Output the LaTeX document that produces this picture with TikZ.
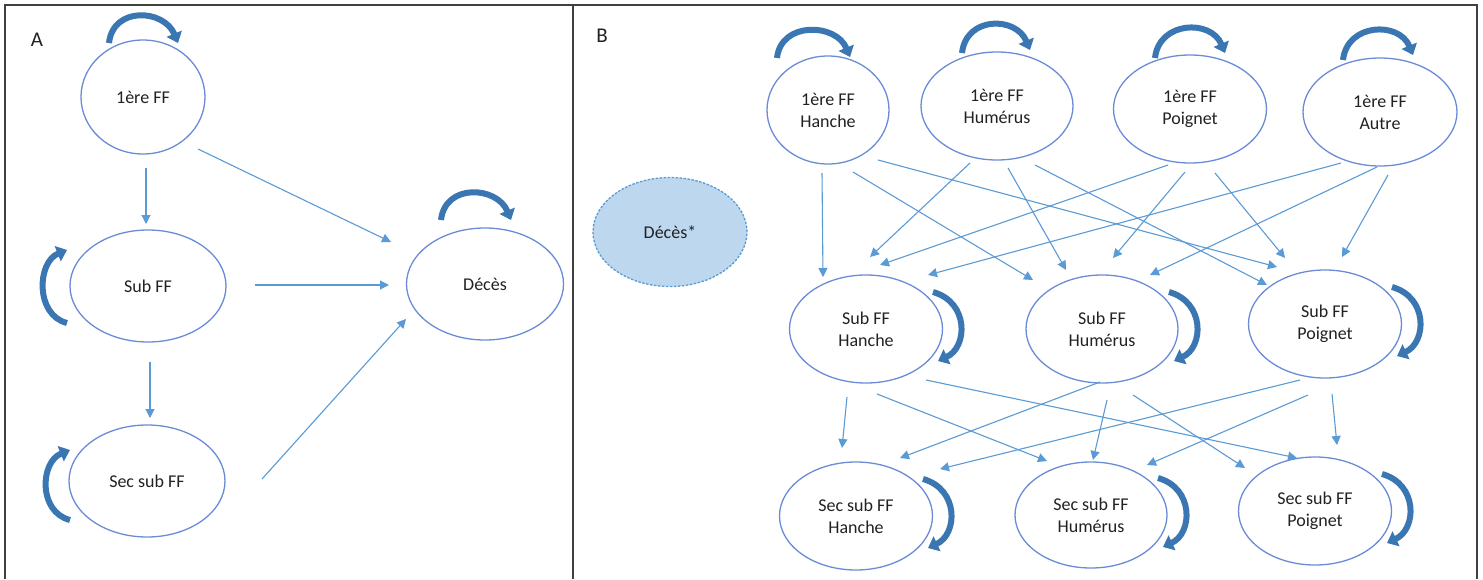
\documentclass[tikz,border=0pt]{standalone}
\usepackage{fontspec}
\setmainfont{Carlito}
\usetikzlibrary{shapes.geometric,arrows.meta,calc}
\definecolor{edgeblue}{HTML}{5B9BD5}
\definecolor{ringblue}{HTML}{6A8CD6}
\definecolor{loopblue}{HTML}{3A76B2}
\definecolor{deathfill}{HTML}{BDD7EE}
\definecolor{framegray}{HTML}{404040}
\definecolor{labelgray}{HTML}{222222}

% top self-transition: #1 node, (#2) left end offset, (#3) arrow tip offset
\newcommand{\loopabove}[3]{%
  \draw[selfloop] ($(#1)+(#2)$) .. controls ($(#1)+(#2)+(4,-37)$) and ($(#1)+(#3)+(-14,-34)$) .. ($(#1)+(#3)$);}
% right-hand self-transition
\newcommand{\loopright}[1]{%
  \draw[selfloop] ($(#1)+(67,-37)$) .. controls ($(#1)+(103,-27)$) and ($(#1)+(102,18)$) .. ($(#1)+(72,32)$);}
% left-hand self-transition: #1 node, (#2) lower end offset, (#3) arrow tip offset
\newcommand{\loopleft}[3]{%
  \draw[selfloop] ($(#1)+(#2)$) .. controls ($(#1)+(#2)+(-32,-8)$) and ($(#1)+(#3)+(-30,12)$) .. ($(#1)+(#3)$);}

\begin{document}
\begin{tikzpicture}[x=1pt,y=-1pt,
  state/.style={ellipse, draw=ringblue, line width=1.3pt, inner sep=0pt,
    align=center, text=labelgray, font=\fontsize{18}{22}\selectfont},
  trans/.style={draw=edgeblue, line width=1.1pt, -{Triangle[width=9pt,length=9pt]}},
  selfloop/.style={draw=loopblue, line width=6pt, -{Triangle[width=16pt,length=10pt]}},
  panel/.style={text=labelgray, font=\fontsize{21}{25}\selectfont}]
\useasboundingbox (0,0) rectangle (1483,579);
\fill[white] (0,0) rectangle (1483,579);

% frame of the two panels
\draw[framegray, line width=1.6pt] (5,579) -- (5,5) -- (1477,5) -- (1477,579);
\draw[framegray, line width=1.6pt] (573,5) -- (573,579);

% ---------------- panel A ----------------
\node[panel] (labA) at (37,40) {A};
\node[state, minimum width=124pt, minimum height=114pt] (a1) at (143,97) {1ère FF};
\node[state, minimum width=156pt, minimum height=112pt] (a2) at (148,286) {Sub FF};
\node[state, minimum width=156pt, minimum height=112pt] (a3) at (147,481) {Sec sub FF};
\node[state, minimum width=157pt, minimum height=112pt] (ad) at (485,284) {Décès};

\draw[trans] ($(a1)+(3,71)$) -- ($(a2)+(-2,-62)$);
\draw[trans] ($(a1)+(55,52)$) -- ($(ad)+(-94,-42)$);
\draw[trans] ($(a2)+(107,-1)$) -- ($(ad)+(-96,1)$);
\draw[trans] ($(a2)+(2,76)$) -- ($(a3)+(3,-63)$);
\draw[trans] ($(a3)+(115,-2)$) -- ($(ad)+(-79,35)$);

\loopabove{a1}{-34,-54}{35,-54}
\loopabove{ad}{-44,-64}{26,-64}
\loopleft{a2}{-81,37}{-81,-36}
\loopleft{a3}{-77,39}{-77,-31}

% ---------------- panel B ----------------
\node[panel] (labB) at (602,36) {B};
\node[state, minimum width=154pt, minimum height=109pt, fill=deathfill, draw=edgeblue,
  dash pattern=on 2.5pt off 1.5pt] (dd) at (670,232) {Décès*};

\node[state, minimum width=122pt, minimum height=108pt] (h1) at (828,110) {1ère FF\\Hanche};
\node[state, minimum width=152pt, minimum height=108pt] (u1) at (997,106) {1ère FF\\Humérus};
\node[state, minimum width=153pt, minimum height=108pt] (p1) at (1190,109) {1ère FF\\Poignet};
\node[state, minimum width=154pt, minimum height=108pt] (o1) at (1380,112) {1ère FF\\Autre};

\node[state, minimum width=153pt, minimum height=108pt] (h2) at (866,329) {Sub FF\\Hanche};
\node[state, minimum width=152pt, minimum height=108pt] (u2) at (1102,329) {Sub FF\\Humérus};
\node[state, minimum width=153pt, minimum height=108pt] (p2) at (1325,324) {Sub FF\\Poignet};

\node[state, minimum width=153pt, minimum height=108pt] (h3) at (856,516) {Sec sub FF\\Hanche};
\node[state, minimum width=152pt, minimum height=106pt] (u3) at (1091,515) {Sec sub FF\\Humérus};
\node[state, minimum width=153pt, minimum height=108pt] (p3) at (1315,511) {Sec sub FF\\Poignet};

% first fracture -> subsequent fracture
\draw[trans] ($(h1)+(-6,63)$) -- ($(h2)+(-43,-52)$);
\draw[trans] ($(h1)+(25,62)$) -- ($(u2)+(-69,-49)$);
\draw[trans] ($(h1)+(50,50)$) -- ($(p2)+(-48,-57)$);
\draw[trans] ($(u1)+(-27,57)$) -- ($(h2)+(4,-72)$);
\draw[trans] ($(u1)+(11,62)$) -- ($(u2)+(-36,-59)$);
\draw[trans] ($(u1)+(38,59)$) -- ($(p2)+(-58,-39)$);
\draw[trans] ($(p1)+(-22,56)$) -- ($(h2)+(14,-64)$);
\draw[trans] ($(p1)+(-5,63)$) -- ($(u2)+(11,-71)$);
\draw[trans] ($(p1)+(25,64)$) -- ($(p2)+(-40,-66)$);
\draw[trans] ($(o1)+(-39,51)$) -- ($(h2)+(62,-54)$);
\draw[trans] ($(o1)+(-3,55)$) -- ($(u2)+(48,-54)$);
\draw[trans] ($(o1)+(8,63)$) -- ($(p2)+(17,-67)$);

% subsequent fracture -> second subsequent fracture
\draw[trans] ($(h2)+(-19,68)$) -- ($(h3)+(-14,-68)$);
\draw[trans] ($(h2)+(11,65)$) -- ($(u3)+(-44,-54)$);
\draw[trans] ($(h2)+(60,51)$) -- ($(p3)+(-18,-53)$);
\draw[trans] ($(u2)+(-2,53)$) -- ($(h3)+(44,-58)$);
\draw[trans] ($(u2)+(5,71)$) -- ($(u3)+(2,-55)$);
\draw[trans] ($(u2)+(31,66)$) -- ($(p3)+(-70,-43)$);
\draw[trans] ($(p2)+(-25,56)$) -- ($(h3)+(84,-47)$);
\draw[trans] ($(p2)+(-17,71)$) -- ($(u3)+(56,-50)$);
\draw[trans] ($(p2)+(7,70)$) -- ($(p3)+(22,-66)$);

% self-transitions
\loopabove{h1}{-51,-52}{22,-53}
\loopabove{u1}{-35,-53}{33,-56}
\loopabove{p1}{-35,-51}{35,-56}
\loopabove{o1}{-37,-52}{33,-57}
\loopright{h2}
\loopright{u2}
\loopright{p2}
\loopright{h3}
\loopright{u3}
\loopright{p3}
\end{tikzpicture}
\end{document}
